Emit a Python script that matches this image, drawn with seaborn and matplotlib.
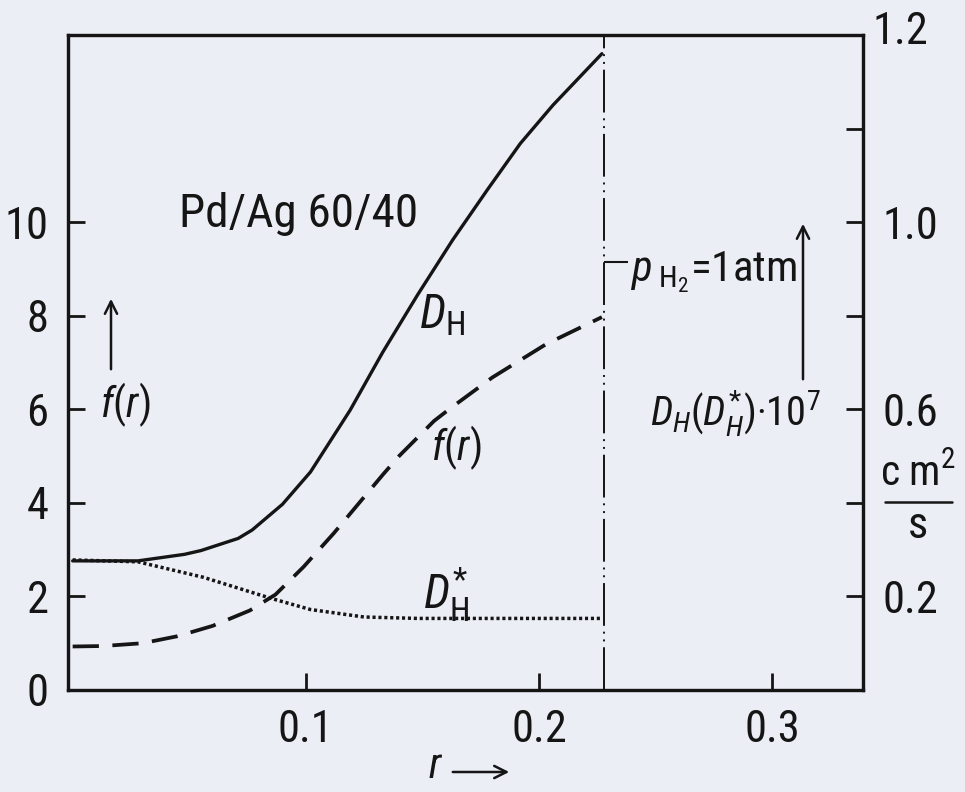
import matplotlib
matplotlib.use('Agg')
import matplotlib.pyplot as plt
import seaborn as sns
import pandas as pd
from matplotlib import font_manager

# ---------------- data ----------------
r_DH = [0.000, 0.028, 0.048, 0.055, 0.071, 0.077, 0.090, 0.102, 0.119,
        0.133, 0.148, 0.163, 0.178, 0.192, 0.206, 0.227]
D_H = [2.76, 2.76, 2.90, 2.98, 3.24, 3.42, 3.97, 4.66, 5.98,
       7.22, 8.45, 9.62, 10.70, 11.68, 12.50, 13.60]

r_f = [0.000, 0.013, 0.030, 0.045, 0.060, 0.076, 0.087, 0.099, 0.112, 0.133,
       0.140, 0.155, 0.162, 0.180, 0.203, 0.227]
f_r = [0.93, 0.94, 1.00, 1.15, 1.37, 1.70, 2.04, 2.63, 3.35, 4.60,
       5.00, 5.75, 6.02, 6.68, 7.39, 7.97]

r_Ds = [0.000, 0.028, 0.056, 0.085, 0.102, 0.125, 0.148, 0.227]
D_Hs = [2.78, 2.74, 2.41, 1.96, 1.72, 1.56, 1.53, 1.53]

R_LIMIT = 0.228          # p_H2 = 1 atm boundary
P_MARK_Y = 9.14          # height of the "p_H2=1atm" marker

x_ticks = [0.1, 0.2, 0.3]
x_ticklabels = ['0.1', '0.2', '0.3']
yl_ticks = [0, 2, 4, 6, 8, 10]
yl_ticklabels = ['0', '2', '4', '6', '8', '10']
yr_ticks = [0.2, 0.4, 0.6, 0.8, 1.0, 1.2]
yr_ticklabels = ['0.2', '', '0.6', '', '1.0', '']

# ---------------- style ----------------
names = {f.name for f in font_manager.fontManager.ttflist}
FONT = 'DejaVu Sans'
for cand in ['Liberation Sans Narrow', 'Roboto Condensed', 'Open Sans Condensed',
             'DejaVu Sans Condensed']:
    if cand in names:
        FONT = cand
        break

sns.set_style('ticks')
plt.rcParams['font.family'] = [FONT, 'DejaVu Sans']
plt.rcParams['mathtext.fontset'] = 'custom'
plt.rcParams['mathtext.rm'] = FONT
plt.rcParams['mathtext.it'] = FONT + ':italic'
plt.rcParams['mathtext.bf'] = FONT + ':bold'

BG = '#eceef6'
INK = '#151515'
W_PX, H_PX = 965, 792

fig = plt.figure(figsize=(W_PX / 100, H_PX / 100), dpi=100, facecolor=BG)
left, right, top, bottom = 68, 863, 35, 690
ax = fig.add_axes([left / W_PX, 1 - bottom / H_PX,
                   (right - left) / W_PX, (bottom - top) / H_PX])
ax.set_facecolor(BG)

df_DH = pd.DataFrame({'r': r_DH, 'v': D_H})
df_f = pd.DataFrame({'r': r_f, 'v': f_r})
df_Ds = pd.DataFrame({'r': r_Ds, 'v': D_Hs})

sns.lineplot(data=df_DH, x='r', y='v', ax=ax, color=INK, lw=2.4,
             estimator=None, sort=False)
sns.lineplot(data=df_f, x='r', y='v', ax=ax, color=INK, lw=2.7,
             linestyle=(0, (7, 3.6)), estimator=None, sort=False)
sns.lineplot(data=df_Ds, x='r', y='v', ax=ax, color=INK, lw=2.5,
             linestyle=(0, (0.9, 0.8)), estimator=None, sort=False)

ax.axvline(R_LIMIT, color=INK, lw=1.4, linestyle=(0, (22, 3, 1, 3, 1, 3)))
ax.hlines(P_MARK_Y, R_LIMIT, R_LIMIT + 0.01, color=INK, lw=1.5)

ax.set_xlim(-0.002, 0.339)
ax.set_ylim(0, 14.0)
ax.set_xlabel('')
ax.set_ylabel('')
ax.set_xticks(x_ticks)
ax.set_xticklabels(x_ticklabels)
ax.set_yticks(yl_ticks)
ax.set_yticklabels(yl_ticklabels)
ax.tick_params(axis='both', direction='in', length=12, width=2.0,
               labelsize=32, color=INK, labelcolor=INK)
ax.tick_params(axis='x', pad=14)
ax.tick_params(axis='y', pad=14)

ax2 = ax.twinx()
ax2.set_ylim(0, 1.4)
ax2.set_yticks(yr_ticks)
ax2.set_yticklabels(yr_ticklabels)
ax2.tick_params(axis='y', direction='in', length=12, width=2.0,
                labelsize=32, color=INK, labelcolor=INK, pad=14)

for a in (ax, ax2):
    for s in a.spines.values():
        s.set_visible(True)
        s.set_linewidth(2.3)
        s.set_color(INK)


def P(px, py):
    return (px / W_PX, 1 - py / H_PX)


T = fig.transFigure

fig.text(*P(873, 32), '1.2', transform=T, fontsize=32, color=INK,
         ha='left', va='center')

fig.text(*P(299, 214), 'Pd/Ag 60/40', transform=T, fontsize=34, color=INK,
         ha='center', va='center')
fig.text(*P(442, 315), r'$D_{\mathrm{H}}$', transform=T, fontsize=34, color=INK,
         ha='center', va='center')
fig.text(*P(456, 448), r'$f(r)$', transform=T, fontsize=30, color=INK,
         ha='center', va='center')
fig.text(*P(446, 595), r'$D_{\mathrm{H}}^{*}$', transform=T, fontsize=34, color=INK,
         ha='center', va='center')

# left axis label
fig.text(*P(125, 405), r'$f(r)$', transform=T, fontsize=30, color=INK,
         ha='center', va='center')
ax.annotate('', xy=P(111, 296), xytext=P(111, 372), xycoords='figure fraction',
            textcoords='figure fraction',
            arrowprops=dict(arrowstyle='->', lw=1.8, color=INK, mutation_scale=22))

# p_H2 note
fig.text(*P(630, 272), r'$p_{\ \mathrm{H}_2}$=1atm', transform=T, fontsize=31,
         color=INK, ha='left', va='center')

# right axis label
ax.annotate('', xy=P(803, 221), xytext=P(803, 382), xycoords='figure fraction',
            textcoords='figure fraction',
            arrowprops=dict(arrowstyle='->', lw=1.8, color=INK, mutation_scale=22))
fig.text(*P(735, 414), r'$D_H(D_H^{*})$·10$^7$', transform=T, fontsize=29,
         color=INK, ha='center', va='center')
fig.text(*P(918, 474), r'c m$^2$', transform=T, fontsize=30, color=INK,
         ha='center', va='center')
fig.add_artist(plt.Line2D([885 / W_PX, 952 / W_PX], [1 - 502 / H_PX, 1 - 502 / H_PX],
                          transform=T, color=INK, lw=1.8))
fig.text(*P(918, 526), 's', transform=T, fontsize=32, color=INK,
         ha='center', va='center')

# x-axis label  r ->
fig.text(*P(436, 766), r'$r$', transform=T, fontsize=30, color=INK,
         ha='center', va='center')
ax.annotate('', xy=P(512, 772), xytext=P(450, 772), xycoords='figure fraction',
            textcoords='figure fraction',
            arrowprops=dict(arrowstyle='->', lw=1.8, color=INK, mutation_scale=22))

fig.savefig('out.png', dpi=100, facecolor=BG)
